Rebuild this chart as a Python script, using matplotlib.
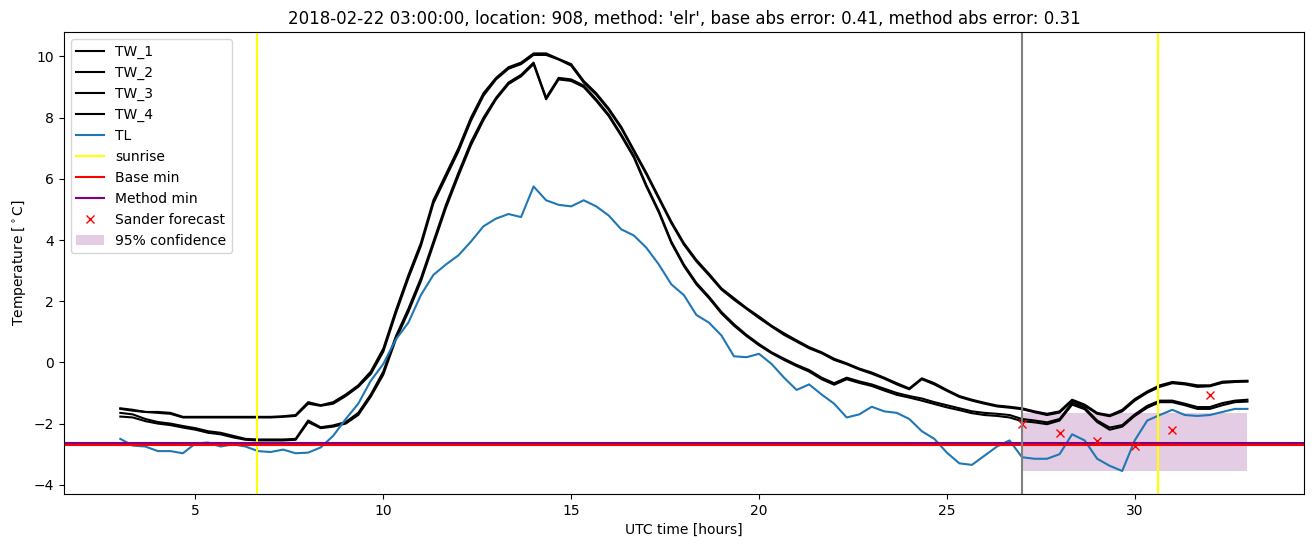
import numpy as np
import matplotlib
matplotlib.use('Agg')
import matplotlib.pyplot as plt

# time axis: every 20 minutes from 03:00 to 33:00 UTC
hours = np.arange(3, 33.01, 1 / 3)

tw_1 = [-1.5, -1.55, -1.62, -1.62, -1.65, -1.78, -1.78, -1.78, -1.78,
        -1.78, -1.78, -1.78, -1.78, -1.76, -1.72, -1.3, -1.4, -1.3,
        -1.05, -0.75, -0.3, 0.45, 1.7, 2.85, 3.9, 5.3, 6.15,
        7.0, 8.0, 8.8, 9.3, 9.65, 9.8, 10.1, 10.1, 9.92,
        9.75, 9.2, 8.8, 8.3, 7.7, 6.95, 6.2, 5.4, 4.6,
        3.9, 3.35, 2.9, 2.42, 2.1, 1.78, 1.5, 1.2, 0.95,
        0.72, 0.5, 0.33, 0.12, -0.03, -0.2, -0.33, -0.5, -0.68,
        -0.85, -0.52, -0.68, -0.9, -1.1, -1.22, -1.32, -1.41, -1.45,
        -1.5, -1.6, -1.68, -1.6, -1.22, -1.38, -1.65, -1.73, -1.55,
        -1.2, -0.95, -0.75, -0.64, -0.68, -0.75, -0.75, -0.63, -0.61,
        -0.6]
tw_2 = [-1.52, -1.58, -1.62, -1.65, -1.68, -1.8, -1.8, -1.8, -1.8,
        -1.8, -1.8, -1.8, -1.8, -1.78, -1.75, -1.35, -1.42, -1.35,
        -1.1, -0.8, -0.38, 0.35, 1.6, 2.75, 3.8, 5.2, 6.05,
        6.9, 7.9, 8.72, 9.25, 9.6, 9.75, 10.05, 10.05, 9.9,
        9.7, 9.15, 8.75, 8.25, 7.65, 6.9, 6.15, 5.35, 4.55,
        3.85, 3.3, 2.85, 2.38, 2.05, 1.75, 1.45, 1.17, 0.9,
        0.68, 0.46, 0.3, 0.08, -0.06, -0.23, -0.37, -0.53, -0.72,
        -0.88, -0.55, -0.72, -0.93, -1.13, -1.25, -1.35, -1.44, -1.48,
        -1.53, -1.63, -1.72, -1.64, -1.26, -1.42, -1.68, -1.76, -1.6,
        -1.25, -0.99, -0.8, -0.68, -0.72, -0.8, -0.78, -0.67, -0.64,
        -0.63]
tw_3 = [-1.65, -1.7, -1.85, -1.95, -2.0, -2.08, -2.15, -2.25, -2.3,
        -2.4, -2.5, -2.52, -2.52, -2.52, -2.5, -1.9, -2.12, -2.06,
        -1.95, -1.65, -1.05, -0.3, 0.85, 1.75, 2.75, 3.95, 5.15,
        6.2, 7.2, 8.0, 8.65, 9.15, 9.4, 9.8, 8.65, 9.3,
        9.25, 9.05, 8.6, 8.1, 7.45, 6.75, 5.8, 4.95, 3.95,
        3.2, 2.6, 2.15, 1.65, 1.25, 0.9, 0.6, 0.33, 0.12,
        -0.08, -0.25, -0.5, -0.68, -0.5, -0.62, -0.72, -0.86, -1.0,
        -1.1, -1.18, -1.3, -1.4, -1.5, -1.6, -1.65, -1.68, -1.72,
        -1.85, -1.9, -1.96, -1.85, -1.32, -1.48, -1.9, -2.13, -2.05,
        -1.7, -1.42, -1.25, -1.25, -1.35, -1.46, -1.46, -1.33, -1.25,
        -1.22]
tw_4 = [-1.77, -1.8, -1.92, -2.0, -2.05, -2.13, -2.2, -2.3, -2.35,
        -2.45, -2.53, -2.55, -2.55, -2.55, -2.53, -1.95, -2.15, -2.1,
        -2.0, -1.72, -1.12, -0.4, 0.75, 1.65, 2.65, 3.85, 5.05,
        6.1, 7.1, 7.92, 8.6, 9.1, 9.35, 9.75, 8.6, 9.25,
        9.2, 9.0, 8.55, 8.05, 7.4, 6.7, 5.75, 4.9, 3.9,
        3.15, 2.55, 2.1, 1.6, 1.2, 0.86, 0.56, 0.3, 0.08,
        -0.12, -0.3, -0.55, -0.73, -0.55, -0.67, -0.77, -0.92, -1.06,
        -1.15, -1.25, -1.36, -1.47, -1.56, -1.66, -1.72, -1.75, -1.8,
        -1.92, -1.96, -2.02, -1.9, -1.38, -1.53, -1.95, -2.2, -2.1,
        -1.75, -1.48, -1.3, -1.3, -1.4, -1.52, -1.52, -1.4, -1.3,
        -1.28]
tl = [-2.5, -2.72, -2.75, -2.9, -2.9, -2.97, -2.65, -2.62, -2.75,
      -2.68, -2.75, -2.9, -2.93, -2.85, -2.97, -2.95, -2.78, -2.4,
      -1.85, -1.35, -0.6, -0.05, 0.75, 1.3, 2.2, 2.86, 3.2,
      3.5, 3.95, 4.45, 4.7, 4.85, 4.75, 5.75, 5.3, 5.15,
      5.1, 5.3, 5.1, 4.8, 4.35, 4.15, 3.75, 3.2, 2.55,
      2.2, 1.55, 1.3, 0.88, 0.2, 0.17, 0.28, -0.05, -0.5,
      -0.9, -0.72, -1.05, -1.35, -1.8, -1.7, -1.45, -1.6, -1.65,
      -1.85, -2.25, -2.5, -2.95, -3.3, -3.35, -3.05, -2.75, -2.55,
      -3.1, -3.15, -3.15, -3.0, -2.35, -2.55, -3.15, -3.38, -3.55,
      -2.55, -1.9, -1.72, -1.55, -1.72, -1.75, -1.72, -1.62, -1.52,
      -1.52]

sunrise_hours = [6.64, 30.61]
base_min = -2.70
method_min = -2.62
forecast_time = 27

sander_hours = [27, 28, 29, 30, 31, 32]
sander_values = [-2.03, -2.3, -2.56, -2.73, -2.2, -1.08]

conf_hours = [27, 33]
conf_low = [-3.56, -3.56]
conf_high = [-1.67, -1.67]

fig, ax = plt.subplots(figsize=(13.13, 5.47), dpi=100)
fig.subplots_adjust(left=0.0487, right=0.993, bottom=0.097, top=0.9415)

ax.plot(hours, tw_1, color='black', label='TW_1')
ax.plot(hours, tw_2, color='black', label='TW_2')
ax.plot(hours, tw_3, color='black', label='TW_3')
ax.plot(hours, tw_4, color='black', label='TW_4')
ax.plot(hours, tl, color='tab:blue', label='TL')

for i, h in enumerate(sunrise_hours):
    ax.axvline(h, color='yellow', label='sunrise' if i == 0 else None)
ax.axhline(base_min, color='red', label='Base min')
ax.axhline(method_min, color='purple', label='Method min')
ax.plot(sander_hours, sander_values, 'x', color='red', label='Sander forecast')
ax.fill_between(conf_hours, conf_low, conf_high, color='purple', alpha=0.2,
                linewidth=0, label='95% confidence')
ax.axvline(forecast_time, color='grey')

ax.set_xlim(1.5, 34.5)
ax.set_ylim(-4.3, 10.8)
ax.set_xlabel('UTC time [hours]')
ax.set_ylabel('Temperature [$^\\circ$C]')
ax.set_title("2018-02-22 03:00:00, location: 908, method: 'elr', "
             "base abs error: 0.41, method abs error: 0.31")
ax.legend(loc='upper left')

plt.savefig('out.png')
